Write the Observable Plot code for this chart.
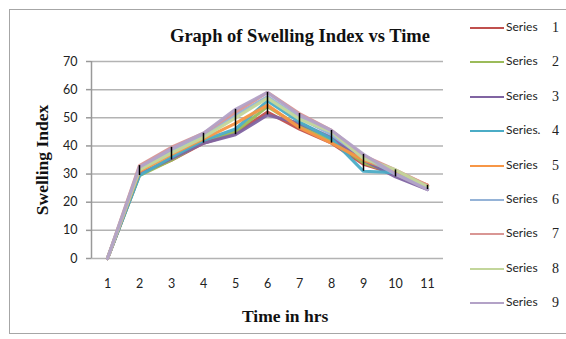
<!DOCTYPE html>
<html>
<head>
<meta charset="utf-8">
<script src="https://cdn.jsdelivr.net/npm/d3@7"></script>
<script src="https://cdn.jsdelivr.net/npm/@observablehq/plot@0.6"></script>
<style>
  html, body { margin: 0; padding: 0; background: #fff; }
  #wrap { position: relative; width: 566px; height: 339px; overflow: hidden; font-family: Lato, "Liberation Sans", sans-serif; }
  #border { position: absolute; left: 9px; top: 9px; width: 580px; height: 325px; border: 1px solid #a6a6a6; box-sizing: border-box; }
  #chart { position: absolute; left: 0; top: 0; }
  .title { position: absolute; font-family: "Liberation Serif", serif; font-weight: bold; font-size: 17.5px; color: #111; white-space: nowrap; }
  .leg { position: absolute; left: 470px; height: 14px; font-size: 12px; color: #222; white-space: nowrap; }
  .leg .sw { position: absolute; left: 0; top: 7px; width: 34px; height: 2px; }
  .leg .t { position: absolute; left: 36px; top: -1px; }
  .leg .n { position: absolute; left: 82px; top: 0px; font-family: "Liberation Serif", serif; font-size: 14px; }
</style>
</head>
<body>
<div id="wrap">
  <div id="border"></div>
  <div id="chart"></div>
</div>
<script>
const times = ["1","2","3","4","5","6","7","8","9","10","11"];
const seriesNames = ["Series 1","Series 2","Series 3","Series 4","Series 5","Series 6","Series 7","Series 8","Series 9"];
const legendLabels = ["Series","Series","Series","Series.","Series","Series","Series","Series","Series"];
const legendNumbers = ["1","2","3","4","5","6","7","8","9"];
const colors = ["#C0504D","#9BBB59","#8064A2","#4BACC6","#F79646","#95B3D7","#D99694","#C3D69B","#B3A2C7"];
const s1 = [0, 30.0, 35.0, 41.0, 44.5, 52.0, 46.0, 41.0, 33.5, 30.0, 26.0];
const s2 = [0, 29.5, 35.0, 41.5, 45.0, 54.0, 47.0, 42.0, 34.0, 30.0, 25.5];
const s3 = [0, 30.0, 35.5, 41.0, 44.0, 51.0, 48.0, 43.0, 35.0, 29.0, 24.5];
const s4 = [0, 29.5, 36.0, 42.0, 46.0, 56.0, 48.5, 42.5, 31.0, 30.5, 25.0];
const s5 = [0, 31.0, 37.0, 42.5, 48.0, 54.5, 46.5, 41.0, 35.0, 31.0, 26.0];
const s6 = [0, 32.0, 38.0, 43.5, 51.0, 57.5, 50.0, 44.0, 36.0, 30.0, 25.0];
const s7 = [0, 33.0, 39.5, 44.5, 52.0, 59.0, 51.5, 45.5, 36.5, 31.5, 26.0];
const s8 = [0, 31.5, 37.5, 43.0, 50.0, 57.0, 49.5, 45.0, 35.5, 31.5, 25.5];
const s9 = [0, 32.5, 39.0, 44.5, 53.0, 59.0, 51.0, 45.5, 37.0, 30.0, 24.5];
const yTicks = [0,10,20,30,40,50,60,70];

const allSeries = [s1,s2,s3,s4,s5,s6,s7,s8,s9];
const rows = [];
allSeries.forEach((arr, i) => arr.forEach((v, j) => rows.push({series: seriesNames[i], time: times[j], value: v})));
const ranges = times.map((t, j) => {
  const vals = allSeries.map(a => a[j]);
  return {time: t, lo: d3.min(vals), hi: d3.max(vals)};
}).filter(d => d.hi > d.lo);

const chart = Plot.plot({
  width: 566,
  height: 339,
  marginLeft: 91,
  marginRight: 123,
  marginTop: 61,
  marginBottom: 81,
  style: {background: "transparent", fontFamily: "Lato, 'Liberation Sans', sans-serif", fontSize: "12.5px", color: "#222"},
  x: {type: "point", domain: times, padding: 0.5, label: null},
  y: {domain: [0, 70], label: null},
  color: {domain: seriesNames, range: colors},
  marks: [
    Plot.gridY(yTicks, {stroke: "#b3b3b3", strokeOpacity: 1, strokeWidth: 1.5}),
    Plot.axisY(yTicks, {tickSize: 5, tickPadding: 9, stroke: "#999", strokeWidth: 1.5, fill: "#222", label: null}),
    Plot.ruleX([0], {x: () => times[0], dx: -16, stroke: "#999", strokeWidth: 1.5, y1: 0, y2: 70}),
    Plot.axisX(times, {tickSize: 0, tickPadding: 21, fill: "#222", label: null}),
    Plot.line(rows, {x: "time", y: "value", z: "series", stroke: "series", strokeWidth: 3.2, strokeLinejoin: "miter", strokeOpacity: 0.95}),
    Plot.ruleX(ranges, {x: "time", y1: "lo", y2: "hi", stroke: "#000", strokeWidth: 1.5})
  ]
});
const wrap = document.getElementById("wrap");
document.getElementById("chart").appendChild(chart);

function addText(txt, style, cls) {
  const d = document.createElement("div");
  d.className = cls || "title";
  d.textContent = txt;
  Object.assign(d.style, style);
  wrap.appendChild(d);
  return d;
}
addText("Graph of Swelling Index vs Time", {left: "170px", top: "26px", fontSize: "18.5px"});
addText("Time in hrs", {left: "242px", top: "306px"});
addText("Swelling Index", {left: "42px", top: "160px", transform: "translate(-50%,-50%) rotate(-90deg)"});

seriesNames.forEach((s, i) => {
  const d = document.createElement("div");
  d.className = "leg";
  d.style.top = (20 + i * 34.4) + "px";
  d.innerHTML = `<div class="sw" style="background:${colors[i]}"></div><span class="t">${legendLabels[i]}</span><span class="n">${legendNumbers[i]}</span>`;
  wrap.appendChild(d);
});
</script>
</body>
</html>
